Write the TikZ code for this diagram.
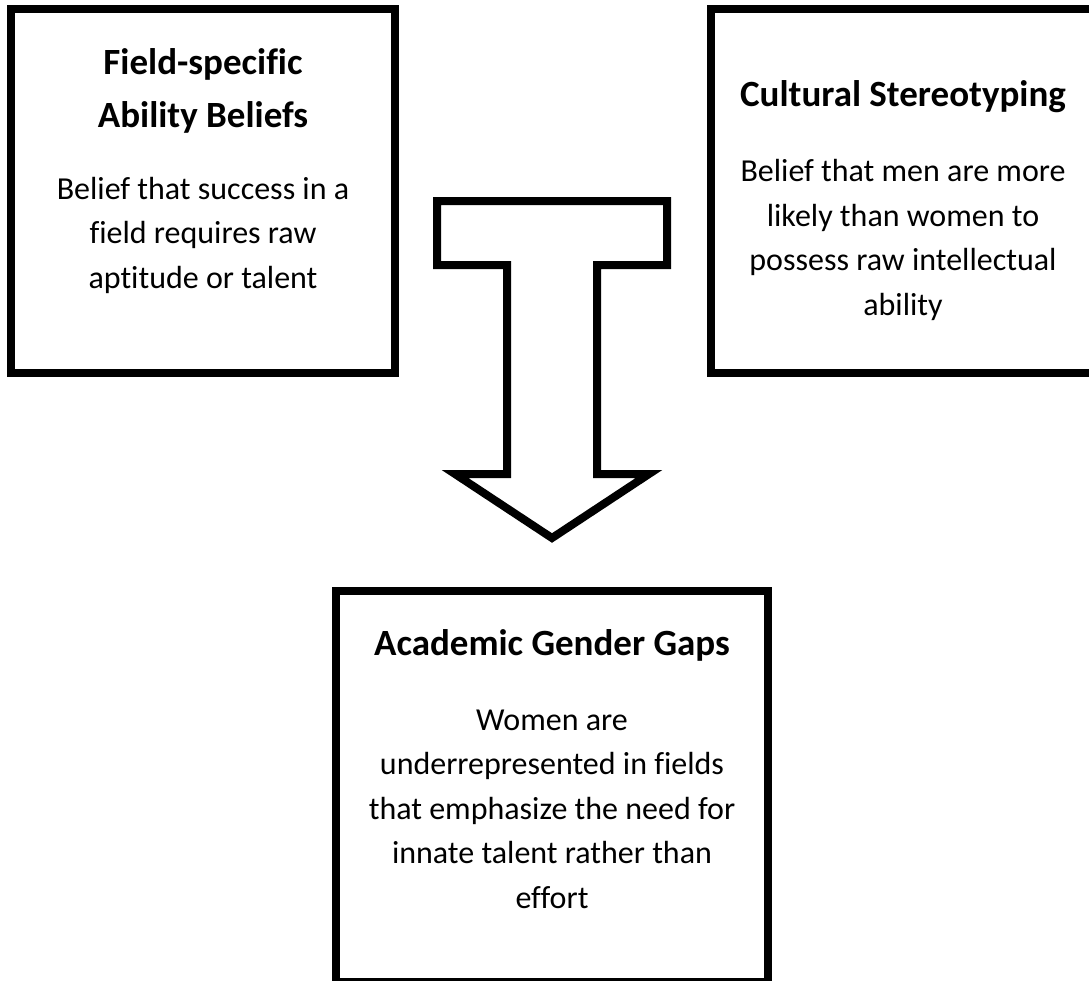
\documentclass[tikz,border=0pt]{standalone}
\usepackage{fontspec}
\setmainfont{Carlito}[Ligatures=CommonOff]
\begin{document}
\begin{tikzpicture}[x=1pt,y=-1pt,
  boxstyle/.style={draw=black, line width=8pt, rectangle, fill=white, inner sep=0pt},
  titlestyle/.style={inner sep=0pt, anchor=base, align=center, font=\bfseries\fontsize{37}{53}\selectfont},
  bodystyle/.style={inner sep=0pt, anchor=base, align=center, font=\fontsize{32}{44.5}\selectfont},
  arrowstyle/.style={draw=black, fill=white, line width=8pt, line join=miter}]
\useasboundingbox (0,0) rectangle (1089,980);
% boxes
\node[boxstyle, minimum width=384pt, minimum height=364pt] (leftbox) at (203,191) {};
\node[boxstyle, minimum width=384pt, minimum height=364pt] (rightbox) at (903,191) {};
\node[boxstyle, minimum width=432pt, minimum height=391pt] (bottombox) at (552,786.5) {};
% texts (anchor base = baseline of the last line)
\node[titlestyle] (lefttitle) at (203,127) {Field-specific\\Ability Beliefs};
\node[bodystyle] (leftbody) at (203,288) {Belief that success in a\\field requires raw\\aptitude or talent};
\node[titlestyle] (righttitle) at (903,106) {Cultural Stereotyping};
\node[bodystyle] (rightbody) at (903,315) {Belief that men are more\\likely than women to\\possess raw intellectual\\ability};
\node[titlestyle] (bottomtitle) at (552,655) {Academic Gender Gaps};
\node[bodystyle] (bottombody) at (552,908) {Women are\\underrepresented in fields\\that emphasize the need for\\innate talent rather than\\effort};
% block arrow
\draw[arrowstyle] (437,201) -- (667,201) -- (667,265) -- (597,265) -- (597,474)
  -- (649,474) -- (552,538) -- (455,474) -- (507,474) -- (507,265) -- (437,265) -- cycle;
\end{tikzpicture}
\end{document}
